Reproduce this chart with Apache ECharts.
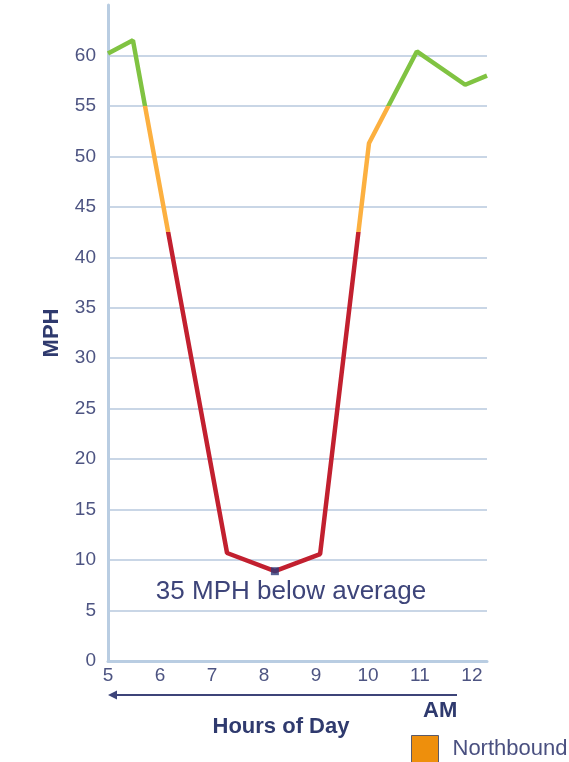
<!DOCTYPE html>
<html>
<head>
<meta charset="utf-8">
<script src="https://cdn.jsdelivr.net/npm/echarts@6/dist/echarts.min.js"></script>
<style>html,body{margin:0;padding:0;background:#fff;}#chart{width:569px;height:762px;}</style>
</head>
<body>
<div id="chart"></div>
<script>
// Hours (decimal) and speeds (MPH) of the northbound line
const hours  = [5.0, 5.48, 7.29, 8.21, 9.08, 10.02, 10.94, 11.87, 12.29];
const speeds = [60.2, 61.5, 10.7, 8.9, 10.6, 51.3, 60.4, 57.1, 58.0];
// Lowest point marker
const minPoint = [8.21, 8.9];
// Annotation
const annotationText = '35 MPH below average';
const annotationAt = [8.52, 6.9];
// Axis tick values
const xTicks = [5, 6, 7, 8, 9, 10, 11, 12];
const yTicks = [0, 5, 10, 15, 20, 25, 30, 35, 40, 45, 50, 55, 60];
const seriesName = 'Northbound';

const FONT = 'Liberation Sans, Arial, sans-serif';
const chart = echarts.init(document.getElementById('chart'));
const lineData = hours.map((h, i) => [h, speeds[i]]);

chart.setOption({
  animation: false,
  grid: { left: 108, right: 82, top: 5, bottom: 101 },
  xAxis: {
    type: 'value', min: 5, max: 12.29, interval: 1,
    name: 'Hours of Day', nameLocation: 'middle', nameGap: 55,
    nameTextStyle: { fontFamily: FONT, fontSize: 22, fontWeight: 'bold', color: '#2f3a6e', padding: [0, 33, 0, 0] },
    axisLine: { show: true, onZero: false, lineStyle: { color: '#b9cde2', width: 3 } },
    axisTick: { show: false },
    splitLine: { show: false },
    axisLabel: { showMaxLabel: false, margin: 5, fontFamily: FONT, fontSize: 19, color: '#4d5482',
      formatter: v => xTicks.includes(v) ? String(v) : '' }
  },
  yAxis: {
    type: 'value', min: 0, max: 65, interval: 5,
    name: 'MPH', nameLocation: 'middle', nameGap: 45,
    nameTextStyle: { fontFamily: FONT, fontSize: 22, fontWeight: 'bold', color: '#2f3a6e' },
    axisLine: { show: true, lineStyle: { color: '#b9cde2', width: 3 } },
    axisTick: { show: false },
    splitLine: { show: true, showMaxLine: false, lineStyle: { color: '#c9d6e6', width: 2 } },
    axisLabel: { showMaxLabel: false, margin: 12, fontFamily: FONT, fontSize: 19, color: '#4d5482',
      formatter: v => yTicks.includes(v) ? String(v) : '' }
  },
  visualMap: {
    show: false, type: 'piecewise', seriesIndex: 0, dimension: 1,
    pieces: [
      { lt: 42.5, color: '#c2202f' },
      { gte: 42.5, lt: 55, color: '#fcb040' },
      { gte: 55, color: '#80c342' }
    ]
  },
  legend: {
    left: 411, top: 735, padding: 0, itemWidth: 27, itemHeight: 27, itemGap: 10,
    textStyle: { fontFamily: FONT, fontSize: 22, color: '#4a5080', padding: [0, 0, 0, 9] },
    data: [{ name: seriesName, icon: 'rect', itemStyle: { color: '#ee8f0c', borderColor: '#5a5a6a', borderWidth: 1 } }]
  },
  series: [
    {
      name: seriesName, type: 'line', data: lineData, showSymbol: false,
      lineStyle: { width: 4.5 }, z: 3
    },
    {
      name: 'min', type: 'scatter', data: [minPoint], symbol: 'rect', symbolSize: 8,
      itemStyle: { color: '#2e3a78' }, z: 4,
      markPoint: {
        symbol: 'rect', symbolSize: 0,
        label: { show: true, formatter: annotationText, fontFamily: FONT, fontSize: 26, color: '#3d4479', position: 'inside' },
        data: [{ coord: annotationAt }]
      }
    }
  ],
  graphic: [
    { type: 'line', shape: { x1: 114, y1: 695, x2: 457, y2: 695 }, style: { stroke: '#3d4479', lineWidth: 2 } },
    { type: 'polygon', shape: { points: [[108, 695], [117, 690.5], [117, 699.5]] }, style: { fill: '#3d4479' } },
    { type: 'text', left: 423, top: 700, style: { text: 'AM', font: 'bold 22px ' + FONT, fill: '#2f3a6e' } }
  ]
});
</script>
</body>
</html>
